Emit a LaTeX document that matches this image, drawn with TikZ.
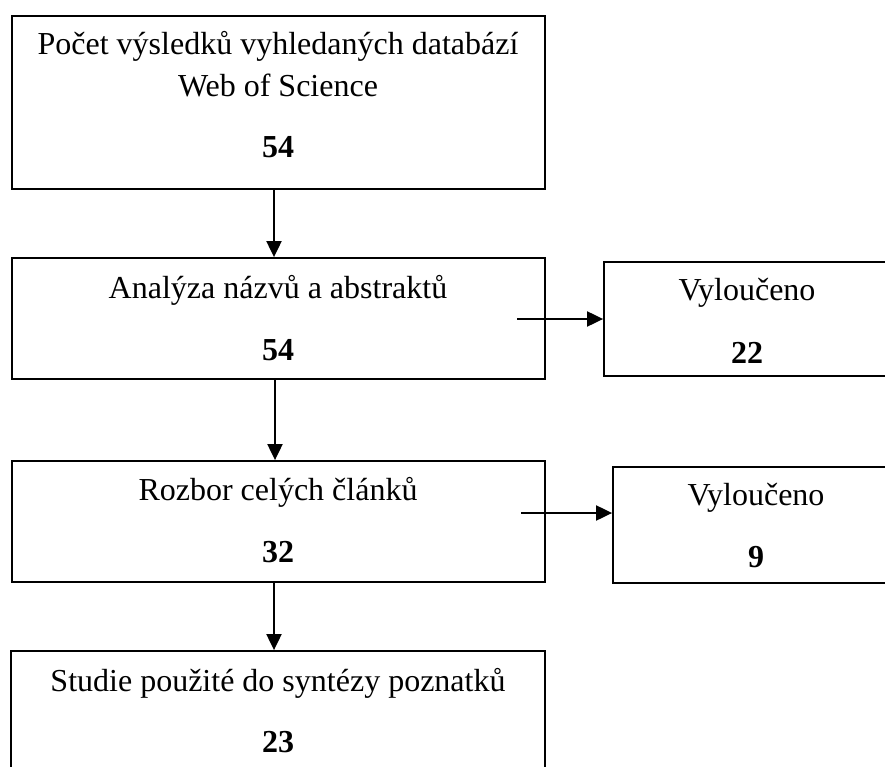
\documentclass[tikz,border=0pt]{standalone}
\usepackage{fontspec}
\setmainfont{Liberation Serif}
\usetikzlibrary{arrows.meta}
\begin{document}
\begin{tikzpicture}[x=1pt,y=-1pt,
  box/.style={draw,line width=1.8pt,rectangle,inner sep=0pt},
  txt/.style={anchor=base,inner sep=0pt,font=\fontsize{32}{37}\selectfont},
  num/.style={txt,font=\fontsize{32}{37}\selectfont\bfseries},
  arr/.style={line width=2pt,-{Triangle[length=16pt,width=15pt]}}]
\useasboundingbox (0,0) rectangle (885,767);
\clip (0,0) rectangle (885,767);
% main boxes
\node[box,minimum width=533pt,minimum height=173pt] (b1) at (278.5,102.5) {};
\node[box,minimum width=533pt,minimum height=121pt] (b2) at (278.5,318.5) {};
\node[box,minimum width=533pt,minimum height=121pt] (b3) at (278.5,521.5) {};
\node[box,minimum width=534pt,minimum height=160pt] (b4) at (278,731) {};
% side boxes
\node[box,minimum width=290pt,minimum height=114pt] (r1) at (749,319) {};
\node[box,minimum width=290pt,minimum height=116pt] (r2) at (758,525) {};
% texts
\node[txt] (t1a) at (278,55) {Počet výsledků vyhledaných databází};
\node[txt] (t1b) at (278,97) {Web of Science};
\node[num] (n1) at (278,158) {54};
\node[txt] (t2) at (278,298) {Analýza názvů a abstraktů};
\node[num] (n2) at (278,360) {54};
\node[txt] (t3) at (278,500) {Rozbor celých článků};
\node[num] (n3) at (278,562) {32};
\node[txt] (t4) at (278,691) {Studie použité do syntézy poznatků};
\node[num] (n4) at (278,752) {23};
\node[txt] (tr1) at (747,300) {Vyloučeno};
\node[num] (nr1) at (747,363) {22};
\node[txt] (tr2) at (756,505) {Vyloučeno};
\node[num] (nr2) at (756,567) {9};
% connectors
\coordinate (s1) at (517,319);
\coordinate (s2) at (521,513);
\draw[arr] ([xshift=-4.5pt]b1.south) -- ([xshift=-4.5pt]b2.north);
\draw[arr] ([xshift=-3.5pt]b2.south) -- ([xshift=-3.5pt]b3.north);
\draw[arr] ([xshift=-4.5pt]b3.south) -- ([xshift=-4pt]b4.north);
\draw[arr] (s1) -- (s1 -| r1.west);
\draw[arr] (s2) -- (s2 -| r2.west);
\end{tikzpicture}
\end{document}
